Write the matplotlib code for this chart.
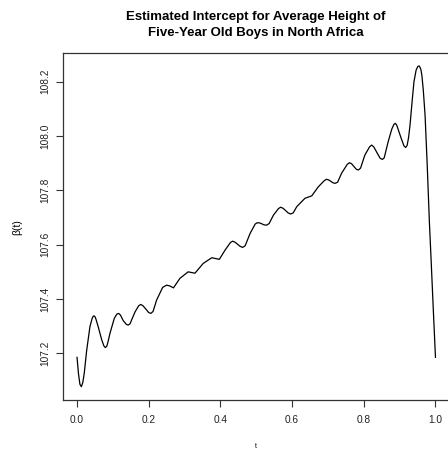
import matplotlib
matplotlib.use("Agg")
import matplotlib.pyplot as plt

plt.rcParams['font.family'] = ['Liberation Sans', 'DejaVu Sans']

# values
t = [0.000, 0.004, 0.008, 0.012, 0.016, 0.020, 0.027, 0.036, 0.042, 0.045,
     0.047, 0.050, 0.053, 0.059, 0.069, 0.075, 0.079, 0.083, 0.086, 0.092,
     0.104, 0.111, 0.116, 0.121, 0.129, 0.138, 0.143, 0.148, 0.152, 0.162,
     0.172, 0.178, 0.184, 0.1925, 0.200, 0.206, 0.212, 0.222, 0.239, 0.250,
     0.259, 0.269, 0.287, 0.310, 0.329, 0.352, 0.376, 0.397, 0.413, 0.428,
     0.434, 0.441, 0.455, 0.462, 0.469, 0.483, 0.497, 0.503, 0.510, 0.522,
     0.529, 0.536, 0.548, 0.562, 0.568, 0.575, 0.589, 0.596, 0.603, 0.613,
     0.636, 0.655, 0.673, 0.690, 0.696, 0.703, 0.714, 0.720, 0.727, 0.738,
     0.754, 0.760, 0.766, 0.779, 0.785, 0.791, 0.803, 0.816, 0.822, 0.828,
     0.838, 0.846, 0.852, 0.857, 0.868, 0.878, 0.884, 0.888, 0.892, 0.903,
     0.912, 0.917, 0.921, 0.925, 0.929, 0.935, 0.940, 0.946, 0.951, 0.955,
     0.959, 0.962, 0.966, 0.971, 0.977, 0.983, 0.988, 0.994, 1.000]
beta = [107.185, 107.125, 107.086, 107.077, 107.092, 107.125, 107.212, 107.298, 107.328, 107.336,
        107.338, 107.335, 107.325, 107.298, 107.249, 107.227, 107.221, 107.226, 107.240, 107.274,
        107.329, 107.344, 107.347, 107.341, 107.320, 107.306, 107.304, 107.309, 107.322, 107.353,
        107.375, 107.380, 107.375, 107.362, 107.350, 107.347, 107.354, 107.396, 107.443, 107.451,
        107.448, 107.441, 107.476, 107.500, 107.495, 107.531, 107.552, 107.546, 107.580, 107.608,
        107.613, 107.609, 107.594, 107.590, 107.596, 107.642, 107.676, 107.681, 107.680, 107.673,
        107.672, 107.678, 107.709, 107.733, 107.738, 107.734, 107.717, 107.713, 107.717, 107.740,
        107.771, 107.780, 107.813, 107.836, 107.841, 107.838, 107.828, 107.826, 107.830, 107.863,
        107.896, 107.902, 107.898, 107.878, 107.875, 107.882, 107.930, 107.960, 107.967, 107.960,
        107.936, 107.918, 107.914, 107.920, 107.979, 108.025, 108.043, 108.047, 108.040, 107.997,
        107.964, 107.958, 107.966, 107.995, 108.040, 108.130, 108.200, 108.243, 108.257, 108.258,
        108.247, 108.225, 108.170, 108.077, 107.893, 107.685, 107.540, 107.360, 107.185]

xticks = [0.0, 0.2, 0.4, 0.6, 0.8, 1.0]
yticks = [107.2, 107.4, 107.6, 107.8, 108.0, 108.2]

fig = plt.figure(figsize=(4.48, 4.49), dpi=100)
ax = fig.add_axes([62.7 / 448, 49 / 449, 387.1 / 448, 347 / 449])
ax.plot(t, beta, color='black', lw=0.9)
ax.set_xlim(-0.04, 1.04)
ax.set_ylim(107.028, 108.306)

ax.set_xticks(xticks)
ax.set_xticklabels(['%.1f' % v for v in xticks])
ax.set_yticks(yticks)
ax.set_yticklabels(['%.1f' % v for v in yticks], rotation=90, va='center')
ax.tick_params(direction='out', length=4.8, width=0.8, colors='#333333',
               labelsize=7.3, labelcolor='#222222')
ax.tick_params(axis='x', pad=6)
ax.tick_params(axis='y', pad=4.5)
for s in ax.spines.values():
    s.set_linewidth(0.9)
    s.set_color('#333333')

fig.text(256 / 448, 1 - 17.3 / 449, 'Estimated Intercept for Average Height of',
         ha='center', va='center', fontsize=9.5, fontweight='bold')
fig.text(256 / 448, 1 - 33.3 / 449, 'Five-Year Old Boys in North Africa',
         ha='center', va='center', fontsize=9.5, fontweight='bold')
fig.text(17.5 / 448, 1 - 227 / 449, 'β(t)', rotation=90, ha='center', va='center',
         fontsize=7.5)
fig.text(256 / 448, 1 - 446 / 449, 't', ha='center', va='center', fontsize=5)

fig.savefig('out.png', dpi=100)
